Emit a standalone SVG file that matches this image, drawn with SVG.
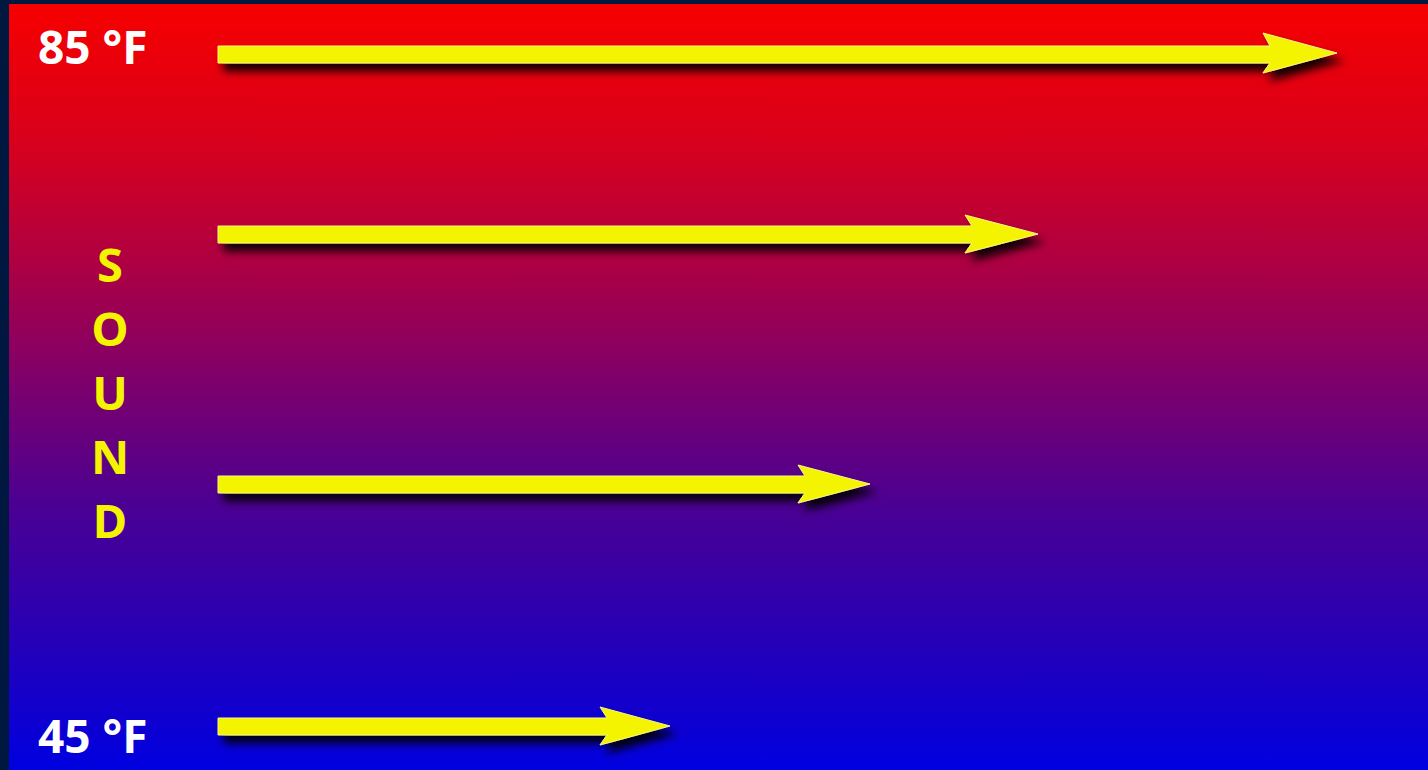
<svg xmlns="http://www.w3.org/2000/svg" width="1428" height="770" viewBox="0 0 1428 770">
<defs>
<linearGradient id="bg" x1="0" y1="0" x2="0" y2="1">
<stop offset="0" stop-color="#f60000"/>
<stop offset="0.18" stop-color="#d8001c"/>
<stop offset="0.33" stop-color="#b00040"/>
<stop offset="0.48" stop-color="#820068"/>
<stop offset="0.65" stop-color="#4c0092"/>
<stop offset="0.8" stop-color="#2c00b0"/>
<stop offset="1" stop-color="#0000e0"/>
</linearGradient>
<filter id="sh" x="-5%" y="-60%" width="115%" height="280%">
<feDropShadow dx="6" dy="8" stdDeviation="4" flood-color="#000000" flood-opacity="0.9"/>
</filter>
<style>
.arr{fill:#f4f400;stroke:#f8f880;stroke-width:1;stroke-linejoin:round;filter:url(#sh)}
.lbl{font-family:"Open Sans","DejaVu Sans",sans-serif;font-weight:bold;font-size:46px;fill:#ffffff}
.snd{font-family:"Open Sans","DejaVu Sans",sans-serif;font-weight:bold;font-size:47px;fill:#f4f400;text-anchor:middle}
</style>
</defs>
<rect x="0" y="0" width="1428" height="770" fill="#001840"/>
<rect x="9" y="4" width="1419" height="766" fill="url(#bg)"/>
<g id="connectors">
<polygon class="arr" points="218,46 1270,46 1263,33 1337,53 1263,73 1270,63 218,63"/>
<polygon class="arr" points="218,226 972,226 965,215 1038,234 965,253 972,243 218,243"/>
<polygon class="arr" points="218,476 805,476 798,465 870,484 798,503 805,493 218,493"/>
<polygon class="arr" points="218,718 607,718 600,707 670,726 600,745 607,735 218,735"/>
</g>
<g id="label-85">
<text class="lbl" x="38" y="64">85 °F</text>
</g>
<g id="label-45">
<text class="lbl" x="38" y="753">45 °F</text>
</g>
<g id="label-sound">
<text class="snd" x="110" y="282">S</text>
<text class="snd" x="110" y="346">O</text>
<text class="snd" x="110" y="410">U</text>
<text class="snd" x="110" y="474">N</text>
<text class="snd" x="110" y="538">D</text>
</g>
</svg>
